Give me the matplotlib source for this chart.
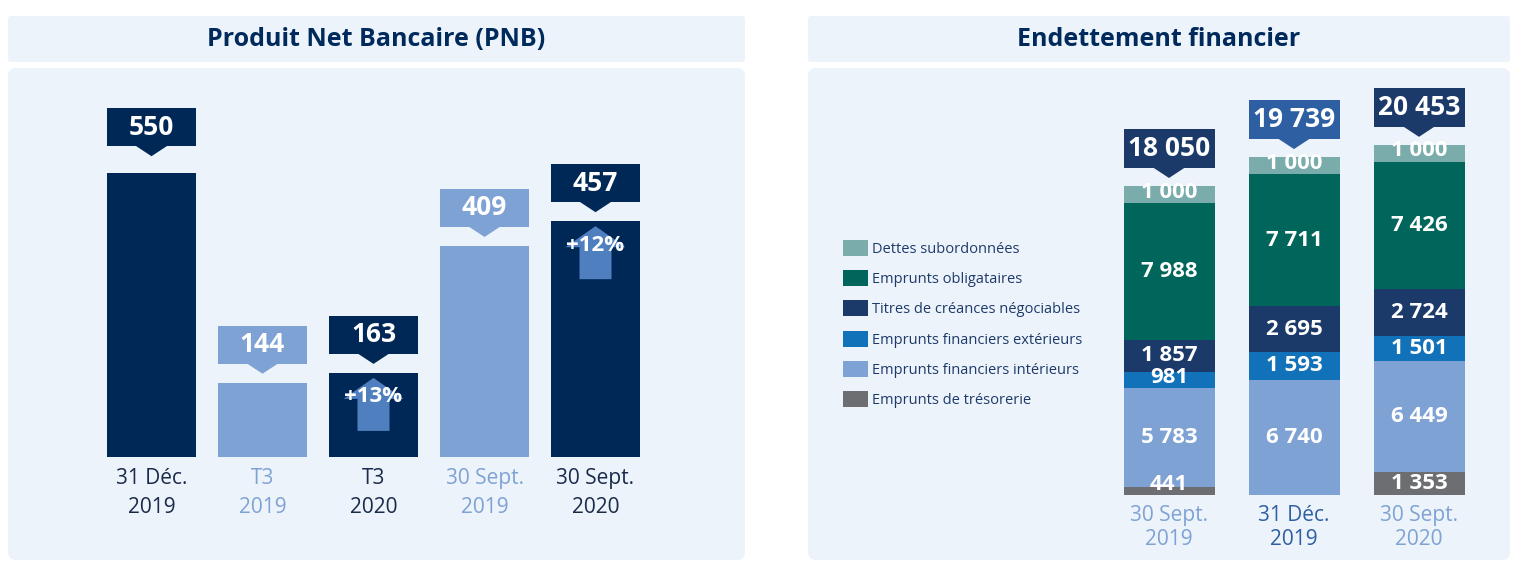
import numpy as np
import matplotlib.pyplot as plt
from matplotlib.patches import FancyBboxPatch, Rectangle, Polygon, Patch

plt.rcParams['font.family'] = ['Open Sans', 'DejaVu Sans']

# ── Données : Produit Net Bancaire ─────────────────────────────
pnb_labels = ["31 Déc.\n2019", "T3\n2019", "T3\n2020", "30 Sept.\n2019", "30 Sept.\n2020"]
pnb_values = [550, 144, 163, 409, 457]
pnb_dark = [True, False, True, False, True]
pnb_growth = [None, None, "+13%", None, "+12%"]

# ── Données : Endettement financier (bas -> haut) ──────────────
dette_periods = ["30 Sept.\n2019", "31 Déc.\n2019", "30 Sept.\n2020"]
dette_series = [
    "Emprunts de trésorerie",
    "Emprunts financiers intérieurs",
    "Emprunts financiers extérieurs",
    "Titres de créances négociables",
    "Emprunts obligataires",
    "Dettes subordonnées",
]
tresorerie = [441, 0, 1353]
fin_interieurs = [5783, 6740, 6449]
fin_exterieurs = [981, 1593, 1501]
tcn = [1857, 2695, 2724]
obligataires = [7988, 7711, 7426]
subordonnees = [1000, 1000, 1000]

# ── Couleurs ───────────────────────────────────────────────────
NAVY = "#002857"
LIGHT = "#7fa2d5"
ARROW = "#4f7fbf"
PANEL = "#ecf3fa"
TITLE = "#002a5c"
SEG_COLORS = ["#6d6e71", "#7fa2d5", "#1172ba", "#1b3a69", "#00655a", "#79acaa"]
TOTAL_COLORS = ["#1b3a69", "#2e5fa3", "#1b3a69"]
PERIOD_COLORS = [LIGHT, "#2e5fa3", LIGHT]

W, H = 1519, 564


def fmt(v):
    return f"{v:,}".replace(",", " ")


fig = plt.figure(figsize=(W / 100, H / 100), dpi=100)
fig.patch.set_facecolor("white")

# ── Fonds des panneaux (coordonnées pixel) ─────────────────────
bg = fig.add_axes([0, 0, 1, 1], zorder=0)
bg.set_xlim(0, W)
bg.set_ylim(H, 0)
bg.axis("off")
for x0, x1, title in [(8, 745, "Produit Net Bancaire (PNB)"),
                      (808, 1510, "Endettement financier")]:
    bg.add_patch(FancyBboxPatch((x0, 16), x1 - x0, 46,
                                boxstyle="round,pad=0,rounding_size=3",
                                fc=PANEL, ec="none"))
    bg.add_patch(FancyBboxPatch((x0, 68), x1 - x0, 492,
                                boxstyle="round,pad=0,rounding_size=8",
                                fc=PANEL, ec="none"))
    bg.text((x0 + x1) / 2, 40, title, ha="center", va="center",
            fontsize=18, fontweight="bold", color=TITLE)

# ================================================================
# PNB
# ================================================================
L_X0, L_STEP, L_BASE, L_SCALE = 151.5, 111.0, 457.0, 0.516
ax1 = fig.add_axes([8 / W, 4 / H, 737 / W, 492 / H], zorder=1)
ax1.set_xlim((8 - L_X0) / L_STEP, (745 - L_X0) / L_STEP)
ax1.set_ylim((L_BASE - 560) / L_SCALE, (L_BASE - 68) / L_SCALE)
ax1.axis("off")

dx = lambda p: p / L_STEP
dy = lambda p: p / L_SCALE

x = np.arange(len(pnb_values))
bw = dx(89)
colors = [NAVY if d else LIGHT for d in pnb_dark]
ax1.bar(x, pnb_values, width=bw, color=colors)

for i, (v, c, lab, g) in enumerate(zip(pnb_values, colors, pnb_labels, pnb_growth)):
    # boîte de valeur : un peu plus haute au-dessus de la plus grande barre
    b0 = v + dy(27 if v == max(pnb_values) else 19)
    ax1.add_patch(Rectangle((i - bw / 2, b0), bw, dy(38), fc=c, ec="none"))
    ax1.add_patch(Polygon([(i - dx(16), b0 + dy(0.5)), (i + dx(16), b0 + dy(0.5)),
                           (i, b0 - dy(10))], closed=True, fc=c, ec="none"))
    ax1.text(i, b0 + dy(19), str(v), ha="center", va="center",
             fontsize=19, fontweight="bold", color="white")
    ax1.text(i, -dy(36), lab, ha="center", va="center", fontsize=15,
             linespacing=1.5, color="#1a2a4a" if c == NAVY else LIGHT)
    if g:
        tip = v - dy(5)
        hb = tip - dy(21)
        bot = tip - dy(53)
        ax1.add_patch(Polygon([(i, tip), (i + dx(30), hb), (i + dx(16), hb),
                               (i + dx(16), bot), (i - dx(16), bot),
                               (i - dx(16), hb), (i - dx(30), hb)],
                              closed=True, fc=ARROW, ec="none"))
        ax1.text(i, v - dy(24), g, ha="center", va="center",
                 fontsize=16, fontweight="bold", color="white")

# ================================================================
# Endettement financier
# ================================================================
R_X0, R_STEP, R_BASE, R_SCALE = 1169.0, 125.0, 495.0, 0.01712
ax2 = fig.add_axes([808 / W, 4 / H, 702 / W, 492 / H], zorder=1)
ax2.set_xlim((808 - R_X0) / R_STEP, (1510 - R_X0) / R_STEP)
ax2.set_ylim((R_BASE - 560) / R_SCALE, (R_BASE - 68) / R_SCALE)
ax2.axis("off")

rx = lambda p: p / R_STEP
ry = lambda p: p / R_SCALE

xs = np.arange(len(dette_periods))
rbw = rx(91)
stack = [tresorerie, fin_interieurs, fin_exterieurs, tcn, obligataires, subordonnees]
bottom = np.zeros(len(xs))
for vals, name, col in zip(stack, dette_series, SEG_COLORS):
    vals = np.array(vals, dtype=float)
    ax2.bar(xs, vals, width=rbw, bottom=bottom, color=col, label=name)
    for i, v in enumerate(vals):
        if v > 0:
            yc = max(bottom[i] + v / 2, bottom[i] + ry(11))
            ax2.text(i, yc, fmt(int(v)), ha="center", va="center",
                     fontsize=16, fontweight="bold", color="white")
    bottom += vals

for i, tot in enumerate(bottom):
    b0 = tot + ry(18)
    c = TOTAL_COLORS[i]
    ax2.add_patch(Rectangle((i - rbw / 2, b0), rbw, ry(39), fc=c, ec="none"))
    ax2.add_patch(Polygon([(i - rx(16), b0 + ry(0.5)), (i + rx(16), b0 + ry(0.5)),
                           (i, b0 - ry(10))], closed=True, fc=c, ec="none"))
    ax2.text(i, b0 + ry(19.5), fmt(int(tot)), ha="center", va="center",
             fontsize=19, fontweight="bold", color="white")
    ax2.text(i, -ry(32.5), dette_periods[i], ha="center", va="center",
             fontsize=15, linespacing=1.22, color=PERIOD_COLORS[i])

handles = [Patch(fc=c, ec="none", label=n) for n, c in zip(dette_series, SEG_COLORS)][::-1]
fig.legend(handles=handles, loc="upper left",
           bbox_to_anchor=(843 / W, 1 - 240 / H), bbox_transform=fig.transFigure,
           frameon=False, fontsize=10.5, labelcolor="#1e3a6a",
           handlelength=1.7, handleheight=1.3, labelspacing=0.92,
           handletextpad=0.3, borderpad=0, borderaxespad=0)

fig.savefig("out.png", dpi=100, facecolor=fig.get_facecolor())
